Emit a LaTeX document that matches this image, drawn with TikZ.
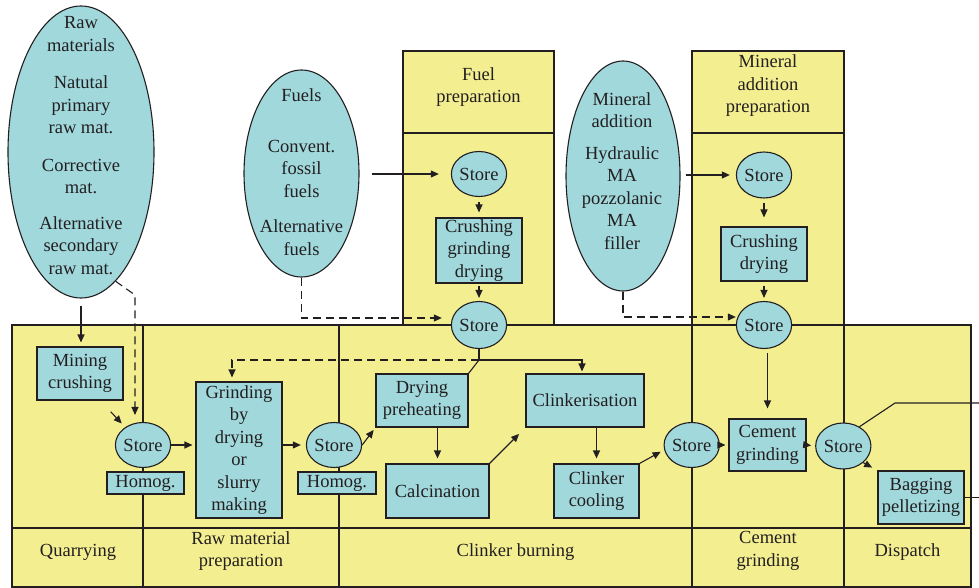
\documentclass[tikz,border=0pt]{standalone}
\usepackage{fontspec}
\setmainfont{Liberation Serif}
\usepackage{xcolor}
\usepackage{tikz}
\usetikzlibrary{shapes.geometric, arrows.meta}

\definecolor{bandyellow}{RGB}{243,239,145}
\definecolor{boxcyan}{RGB}{160,216,220}
\definecolor{inkgray}{RGB}{35,31,32}

\begin{document}
\begin{tikzpicture}[x=1pt, y=-1pt, line width=1.1pt, color=inkgray,
    font=\fontsize{18.5}{22.5}\selectfont,
    procbox/.style={draw, fill=boxcyan, inner sep=0pt, align=center},
    storecirc/.style={ellipse, draw, fill=boxcyan, inner sep=0pt, minimum width=50pt, minimum height=45pt},
    srcell/.style={ellipse, draw, fill=boxcyan, inner sep=0pt},
    arr/.style={-{Triangle[length=8pt,width=7pt]}},
    darr/.style={arr, dash pattern=on 8pt off 5pt}]
        \useasboundingbox (0,0) rectangle (979,588);

        % preparation columns on top
        \filldraw[fill=bandyellow] (403,51) rectangle (554,325);
        \draw (403,133) -- (554,133);
        \filldraw[fill=bandyellow] (692,51) rectangle (844,325);
        \draw (692,133) -- (844,133);

        % main band
        \filldraw[fill=bandyellow] (12,325) rectangle (971,587);
        \draw (12,528) -- (971,528);
        \foreach \xd in {143,339,692,844}
            \draw (\xd,325) -- (\xd,587);

        \node[align=center] (lfuelprep) at (478.5,87) {Fuel\\preparation};
        \node[align=center] (lminprep) at (768,86) {Mineral\\addition\\preparation};

        \node (lquarry) at (78,552) {Quarrying};
        \node[align=center] (lrawprep) at (241,551) {Raw material\\preparation};
        \node (lclinker) at (515.5,552) {Clinker burning};
        \node[align=center] (lcement) at (768,551) {Cement\\grinding};
        \node (ldispatch) at (907.5,552) {Dispatch};

        % source ellipses
        \node[srcell, minimum width=146pt, minimum height=292pt] (rawell) at (81,152) {};
        \node[align=center] (rawtxt) at (81,145.5) {Raw\\materials\\[15pt]Natutal\\primary\\raw mat.\\[15pt]Corrective\\mat.\\[13pt]Alternative\\secondary\\raw mat.};
        \node[srcell, minimum width=115pt, minimum height=207pt] (fuelell) at (301.5,173.5) {};
        \node[align=center] (fueltxt) at (301.5,172) {Fuels\\[28pt]Convent.\\fossil\\fuels\\[13pt]Alternative\\fuels};
        \node[srcell, minimum width=114pt, minimum height=230pt] (minell) at (623,176) {};
        \node[align=center] (mintxt) at (622,171) {Mineral\\addition\\[9pt]Hydraulic\\MA\\pozzolanic\\MA\\filler};

        % fuel and mineral addition preparation
        \node[storecirc] (fstoreA) at (479,174) {Store};
        \node[procbox, minimum width=86pt, minimum height=65pt] (fcrush) at (479,250.5) {Crushing\\grinding\\drying};
        \node[storecirc, minimum height=47pt] (fstoreB) at (479,325) {Store};
        \node[storecirc, minimum height=46pt] (mstoreA) at (764,175) {Store};
        \node[procbox, minimum width=86pt, minimum height=54pt] (mcrush) at (764,254) {Crushing\\drying};
        \node[storecirc, minimum height=47pt] (mstoreB) at (764,325) {Store};

        % process line
        \node[procbox, minimum width=86pt, minimum height=53pt] (mining) at (80,373.5) {Mining\\crushing};
        \node[storecirc] (rstore) at (143,445) {Store};
        \node[procbox, minimum width=77pt, minimum height=22pt] (homogA) at (145.5,483) {Homog.};
        \node[procbox, minimum width=86pt, minimum height=136pt] (grinding) at (239,450) {Grinding\\by\\drying\\or\\slurry\\making};
        \node[storecirc] (store2) at (334,445) {Store};
        \node[procbox, minimum width=78pt, minimum height=22pt] (homogB) at (337,483) {Homog.};
        \node[procbox, minimum width=92pt, minimum height=53pt] (drying) at (422,400.5) {Drying\\preheating};
        \node[procbox, minimum width=103pt, minimum height=54pt] (calc) at (437.5,491) {Calcination};
        \node[procbox, minimum width=118pt, minimum height=53pt] (clink) at (585,400.5) {Clinkerisation};
        \node[procbox, minimum width=85pt, minimum height=54pt] (cool) at (596.5,491) {Clinker\\cooling};
        \node[storecirc, minimum width=49pt] (store3) at (691.7,445) {Store};
        \node[procbox, minimum width=77pt, minimum height=52pt] (cemgr) at (767.5,445) {Cement\\grinding};
        \node[storecirc, minimum height=46pt] (store4) at (843.3,446) {Store};
        \node[procbox, minimum width=86pt, minimum height=53pt] (bagging) at (921,497.5) {Bagging\\pelletizing};

        \coordinate (rbend) at (135,295);
        \coordinate (minefeed) at (110.7,411.7);
        \coordinate (fjunc) at (479,360);
        \coordinate (dispbend) at (895,403);
        \coordinate (dispout) at (979,403);
        \coordinate (bagout) at (979,497.5);

        % connectors
        \draw[arr, shorten <=7pt, shorten >=4pt] (rawell.south) -- (rawell.south |- mining.north);
        \draw[darr, shorten >=7pt] (rawell.-75) -- (rbend) -- (rbend |- rstore.north);
        \draw[arr, shorten >=5pt] (minefeed) -- (rstore.135);
        \draw[arr, shorten <=12pt, shorten >=12pt] (fuelell.east |- fstoreA) -- (fstoreA.west);
        \draw[darr, shorten >=9pt] (fuelell.south) |- ([yshift=7pt]fstoreB.west);
        \draw[arr, shorten <=5pt, shorten >=6pt] (minell.east |- mstoreA) -- (mstoreA.west);
        \draw[darr] (minell.south) |- ([yshift=8pt]mstoreB.west);
        \draw[arr, shorten <=5pt, shorten >=5pt] (fstoreA) -- (fcrush);
        \draw[arr, shorten <=2pt, shorten >=3pt] (fcrush) -- (fstoreB);
        \draw[arr, shorten <=4pt, shorten >=9pt] (mstoreA) -- (mcrush);
        \draw[arr, shorten <=4pt, shorten >=3pt] (mcrush) -- (mstoreB);
        \draw[arr, shorten <=4pt, shorten >=10pt] (cemgr.north |- mstoreB.south) -- (cemgr.north);
        \draw (fstoreB.south) -- (fjunc);
        \draw[arr, shorten >=2pt] (fjunc) -| ([xshift=-3pt]clink.north);
        \draw[darr, shorten >=4pt] (fjunc) -| ([xshift=-7pt]grinding.north);
        \draw (fjunc) -- (drying.north east);
        \draw[arr, shorten >=3pt] (rstore.east) -- (grinding.west |- rstore);
        \draw[arr, shorten >=5pt] (grinding.east |- store2) -- (store2.west);
        \draw[arr, shorten >=3pt] (store2.east) -- (drying.south west);
        \draw[arr, shorten >=5pt] (calc.north |- drying.south) -- (calc.north);
        \draw[arr, shorten >=9pt] (calc.north east) -- (clink.south west);
        \draw[arr, shorten >=5pt] (cool.north |- clink.south) -- (cool.north);
        \draw[arr, shorten >=4pt] (cool.north east) -- (store3.190);
        \draw[arr, shorten >=3pt] (store3.east) -- (cemgr.west);
        \draw[arr, shorten >=4pt] (cemgr.east) -- (store4.west);
        \draw[arr, shorten >=6pt] (store4.-40) -- (bagging.north west);
        \draw (store4.50) -- (dispbend) -- (dispout);
        \draw (bagging.east) -- (bagout);
      \end{tikzpicture}
\end{document}
